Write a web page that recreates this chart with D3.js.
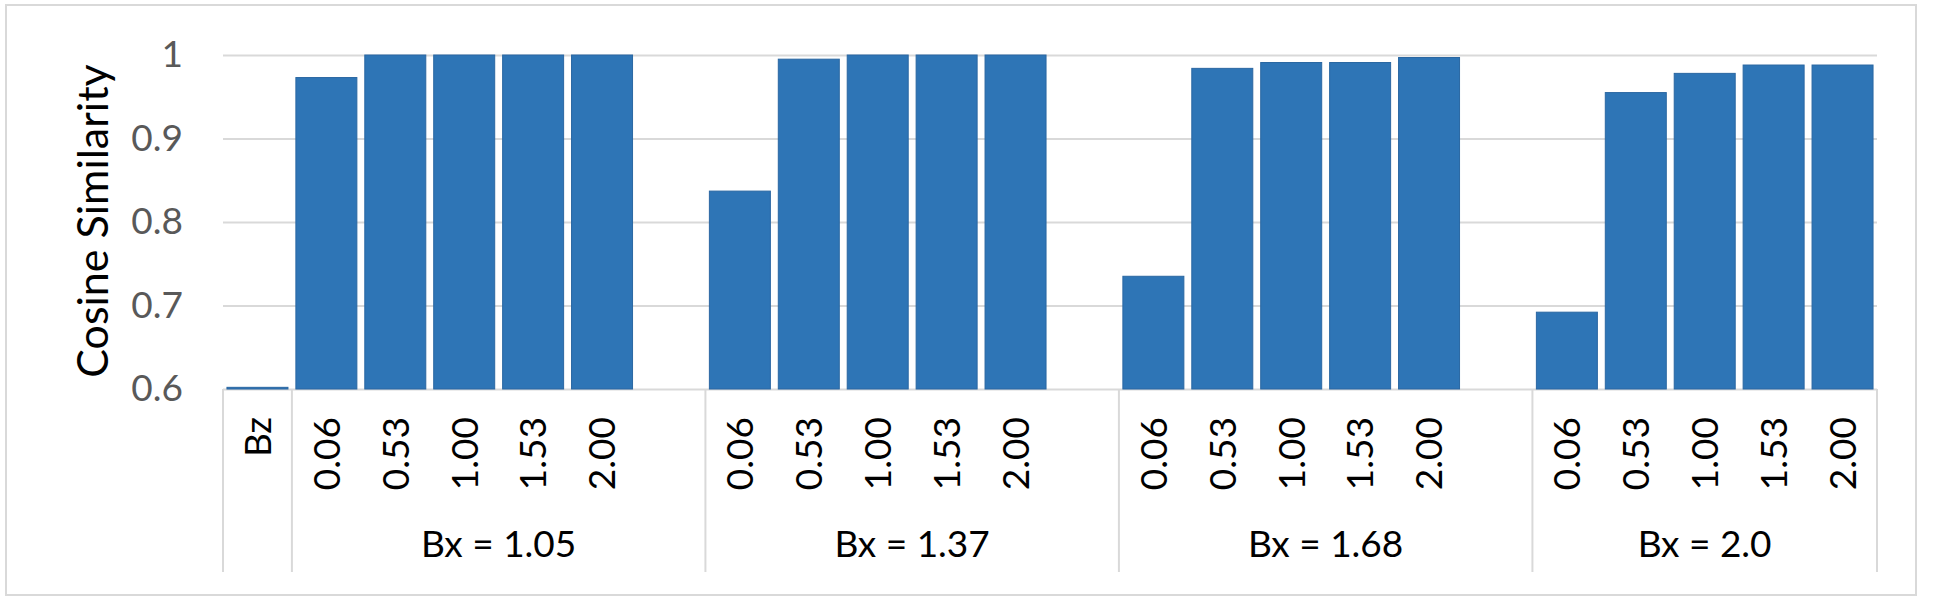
<!DOCTYPE html>
<html>
<head>
<meta charset="utf-8">
<script src="https://cdn.jsdelivr.net/npm/d3@7"></script>
<style>
  body { margin: 0; background: #fff; }
  text { font-family: Lato, "Open Sans", sans-serif; }
</style>
</head>
<body>
<svg id="chart"></svg>
<script>
// values
let bzLabel = 'Bz';
let bzValue = 0.602;
let groupNames = ['Bx = 1.05', 'Bx = 1.37', 'Bx = 1.68', 'Bx = 2.0'];
let bzLevels = ['0.06', '0.53', '1.00', '1.53', '2.00'];
let bx105 = [0.973, 1.0, 1.0, 1.0, 1.0];
let bx137 = [0.837, 0.995, 1.0, 1.0, 1.0];
let bx168 = [0.735, 0.984, 0.991, 0.991, 0.997];
let bx20 = [0.692, 0.955, 0.978, 0.988, 0.988];
let yTicks = [0.6, 0.7, 0.8, 0.9, 1];

let width = 1938;
let height = 605;
let config = {
  left: 223,
  right: 1877,
  top: 55,
  base: 389,
  labelBottom: 572
};

function buildRows() {
  let series = [bx105, bx137, bx168, bx20];
  let rows = [{key: 'bz', label: bzLabel, value: bzValue, group: null}];
  groupNames.forEach((g, gi) => {
    bzLevels.forEach((lvl, i) => {
      rows.push({key: g + '|' + lvl, label: lvl, value: series[gi][i], group: g});
    });
    // Excel leaves an empty slot after each group but the last
    if (gi < groupNames.length - 1) {
      rows.push({key: g + '|gap', label: '', value: null, group: g});
    }
  });
  return rows;
}

let rows = buildRows();

let svg = d3.select('#chart')
  .attr('width', width)
  .attr('height', height);

svg.append('rect')
  .attr('x', 6)
  .attr('y', 5)
  .attr('width', 1910)
  .attr('height', 590)
  .attr('fill', '#fff')
  .attr('stroke', '#d9d9d9')
  .attr('stroke-width', 2);

let xScale = d3.scaleBand()
  .domain(rows.map(d => d.key))
  .range([config.left, config.right])
  .paddingInner(0.115)
  .paddingOuter(0.0575);
let step = xScale.step();

let yScale = d3.scaleLinear()
  .domain([0.6, 1])
  .range([config.base, config.top]);

// gridlines + tick labels
let yAxis = d3.axisLeft(yScale)
  .tickValues(yTicks)
  .tickSize(-(config.right - config.left))
  .tickPadding(40)
  .tickFormat(d => d === 1 ? '1' : d3.format('.1f')(d));
let yAxGroup = svg.append('g')
  .attr('transform', `translate(${config.left},0)`)
  .call(yAxis);
yAxGroup.select('.domain').remove();
yAxGroup.selectAll('line')
  .attr('stroke', '#d9d9d9')
  .attr('stroke-width', 2);
yAxGroup.selectAll('text')
  .attr('fill', '#595959')
  .style('font-size', '37px')
  .style('font-family', 'Lato, sans-serif');

// bars
svg.append('g')
  .selectAll('rect')
  .data(rows.filter(d => d.value !== null))
  .join('rect')
  .attr('x', d => xScale(d.key))
  .attr('width', xScale.bandwidth())
  .attr('y', d => yScale(d.value))
  .attr('height', d => yScale(0.6) - yScale(d.value))
  .attr('fill', '#2e75b6')
  .attr('stroke', '#2a67a2')
  .attr('stroke-width', 1);

// category axis: separators
let boundaries = [config.left, config.left + step];
let pos = 1;
groupNames.forEach((g) => {
  let n = rows.filter(d => d.group === g).length;
  pos += n;
  boundaries.push(config.left + pos * step);
});
svg.append('g')
  .selectAll('line')
  .data(boundaries)
  .join('line')
  .attr('x1', d => d)
  .attr('x2', d => d)
  .attr('y1', config.base)
  .attr('y2', config.labelBottom)
  .attr('stroke', '#d9d9d9')
  .attr('stroke-width', 2);

// inner labels, rotated
svg.append('g')
  .selectAll('text')
  .data(rows.filter(d => d.label !== ''))
  .join('text')
  .attr('transform', d => `translate(${xScale(d.key) + xScale.bandwidth() / 2},417) rotate(-90)`)
  .attr('text-anchor', 'end')
  .attr('dy', '0.36em')
  .style('font-size', '37px')
  .attr('fill', '#000')
  .text(d => d.label);

// group labels
svg.append('g')
  .selectAll('text')
  .data(groupNames)
  .join('text')
  .attr('x', (g, i) => (boundaries[i + 1] + boundaries[i + 2]) / 2)
  .attr('y', 557)
  .attr('text-anchor', 'middle')
  .style('font-size', '37px')
  .attr('fill', '#000')
  .text(g => g);

// y title
svg.append('text')
  .attr('transform', `translate(108,221) rotate(-90)`)
  .attr('text-anchor', 'middle')
  .style('font-size', '43px')
  .attr('fill', '#000')
  .text('Cosine Similarity');
</script>
</body>
</html>
